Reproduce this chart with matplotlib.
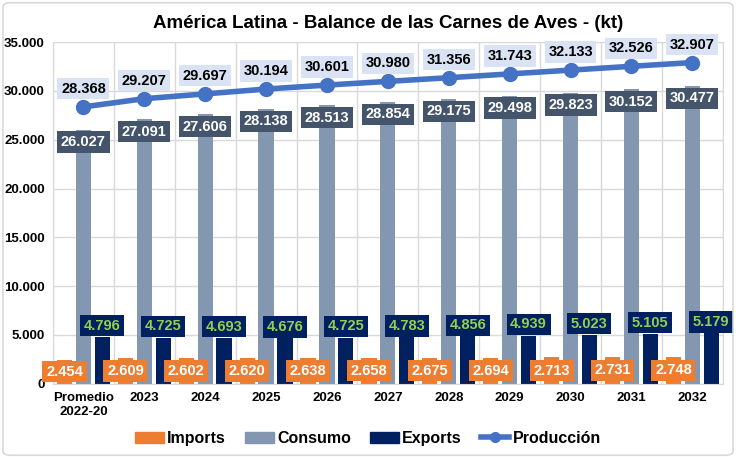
import matplotlib
matplotlib.use("Agg")
import matplotlib.pyplot as plt
import numpy as np
from matplotlib.patches import FancyBboxPatch
from matplotlib.lines import Line2D
from matplotlib.patches import Patch

plt.rcParams["font.family"] = ["Liberation Sans", "DejaVu Sans"]
plt.rcParams["font.weight"] = "bold"

categories = ["Promedio\n2022-20", "2023", "2024", "2025", "2026", "2027",
              "2028", "2029", "2030", "2031", "2032"]
imports = [2454, 2609, 2602, 2620, 2638, 2658, 2675, 2694, 2713, 2731, 2748]
consumo = [26027, 27091, 27606, 28138, 28513, 28854, 29175, 29498, 29823, 30152, 30477]
exports = [4796, 4725, 4693, 4676, 4725, 4783, 4856, 4939, 5023, 5105, 5179]
produccion = [28368, 29207, 29697, 30194, 30601, 30980, 31356, 31743, 32133, 32526, 32907]

ORANGE = "#ED7D31"
SLATE = "#8497B0"
NAVY = "#002060"
LINE = "#4472C4"
LBL_CONS = "#44546A"
LBL_PROD = "#DAE3F3"
GREEN = "#92D050"


def fmt(v):
    return f"{v:,}".replace(",", ".")


fig = plt.figure(figsize=(7.36, 4.58), dpi=100)
ax = fig.add_axes([0.072, 0.162, 0.910, 0.746])

x = np.arange(len(categories))
w = 0.25
off = 0.31
ax.bar(x - off, imports, w, color=ORANGE, zorder=2)
ax.bar(x, consumo, w, color=SLATE, zorder=2)
ax.bar(x + off, exports, w, color=NAVY, zorder=2)
ax.plot(x, produccion, color=LINE, lw=4, marker="o", ms=10, zorder=4,
        solid_capstyle="round")

tkw = dict(ha="center", va="center", fontsize=10.5, fontweight="bold", zorder=6)
for i in range(len(x)):
    ax.text(x[i] - off, imports[i] / 2, fmt(imports[i]), color="white",
            bbox=dict(boxstyle="square,pad=0.25", fc=ORANGE, ec="none"), **tkw)
    ax.text(x[i], consumo[i] - 1250, fmt(consumo[i]), color="white",
            bbox=dict(boxstyle="square,pad=0.25", fc=LBL_CONS, ec="none"), **tkw)
    ax.text(x[i] + off, exports[i] + 1150, fmt(exports[i]), color=GREEN,
            bbox=dict(boxstyle="square,pad=0.25", fc=NAVY, ec="none"), **tkw)
    ax.text(x[i], produccion[i] + 1850, fmt(produccion[i]), color="black",
            bbox=dict(boxstyle="square,pad=0.25", fc=LBL_PROD, ec="none"), **tkw)

ax.set_xlim(-0.5, len(x) - 0.5)
ax.set_ylim(0, 35000)
ax.set_yticks(range(0, 35001, 5000))
ax.set_yticklabels([fmt(v) for v in range(0, 35001, 5000)], fontsize=9.5,
                   fontweight="bold")
ax.set_xticks(x)
ax.set_xticklabels(categories, fontsize=9.5, fontweight="bold")
ax.set_xticks(np.arange(-0.5, len(x), 1), minor=True)
ax.grid(axis="y", color="#D9D9D9", lw=1, zorder=0)
ax.grid(axis="x", which="minor", color="#D9D9D9", lw=1, zorder=0)
ax.tick_params(axis="both", which="both", length=0, pad=6)
for s in ax.spines.values():
    s.set_color("#D9D9D9")

ax.set_title("América Latina - Balance de las Carnes de Aves - (kt)",
             fontsize=13.5, fontweight="bold", pad=10)

handles = [Patch(color=ORANGE, label="Imports"),
           Patch(color=SLATE, label="Consumo"),
           Patch(color=NAVY, label="Exports"),
           Line2D([0], [0], color=LINE, lw=4, marker="o", ms=7,
                  label="Producción")]
fig.legend(handles=handles, loc="center", bbox_to_anchor=(0.5, 0.043), ncol=4,
           frameon=False, fontsize=11.5, handlelength=1.8, handletextpad=0.2,
           columnspacing=1.2)

fig.add_artist(FancyBboxPatch((0.004, 0.006), 0.992, 0.988,
                              boxstyle="round,pad=0,rounding_size=0.01",
                              transform=fig.transFigure, fc="none",
                              ec="#D9D9D9", lw=1.2))

fig.savefig("out.png", dpi=100)
